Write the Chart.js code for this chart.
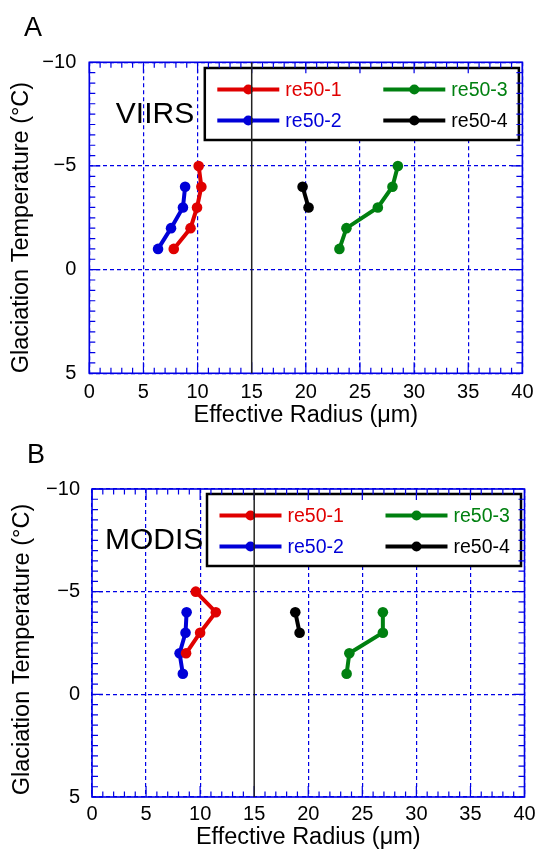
<!DOCTYPE html>
<html>
<head>
<meta charset="utf-8">
<script src="https://cdn.jsdelivr.net/npm/chart.js@4.4.0/dist/chart.umd.min.js"></script>
<style>
  body { margin: 0; background: #fff; width: 541px; height: 854px; position: relative; overflow: hidden; }
  .panel { position: absolute; left: 0; width: 541px; height: 427px; }
</style>
</head>
<body>
<div class="panel" style="top:0"><canvas id="chartA" width="541" height="427"></canvas></div>
<div class="panel" style="top:427px"><canvas id="chartB" width="541" height="427"></canvas></div>
<script>
// ---- data --------------------------------------------------------------
const seriesNames = ['re50-1', 're50-2', 're50-3', 're50-4'];
const xTicks = [0, 5, 10, 15, 20, 25, 30, 35, 40];
const yTicks = [-10, -5, 0, 5];

// VIIRS panel: effective radius (um) and glaciation temperature (C)
const viirsRe1 = [10.1, 10.35, 9.95, 9.35, 7.8];
const viirsT1  = [-5, -4, -3, -2, -1];
const viirsRe2 = [8.85, 8.65, 7.55, 6.35];
const viirsT2  = [-4, -3, -2, -1];
const viirsRe3 = [28.5, 28.0, 26.65, 23.75, 23.1];
const viirsT3  = [-5, -4, -3, -2, -1];
const viirsRe4 = [19.7, 20.25];
const viirsT4  = [-4, -3];

// MODIS panel
const modisRe1 = [9.6, 11.45, 10.0, 8.7];
const modisT1  = [-5, -4, -3, -2];
const modisRe2 = [8.75, 8.65, 8.1, 8.4];
const modisT2  = [-4, -3, -2, -1];
const modisRe3 = [26.9, 26.9, 23.8, 23.55];
const modisT3  = [-4, -3, -2, -1];
const modisRe4 = [18.8, 19.2];
const modisT4  = [-4, -3];

// ---- styling ------------------------------------------------------------
const colors = ['#e00000', '#0000d8', '#008010', '#000000'];
const axisBlue = '#0000e6';
const FONT = '"Liberation Sans", Arial, Helvetica, sans-serif';

function pts(xs, ys) {
  return xs.map((x, i) => ({ x: x, y: ys[i] }));
}

// frame, minor ticks, legend box, 15um line, labels
const decorPlugin = {
  id: 'decor',
  afterDatasetsDraw(chart, args, opts) {
    const ctx = chart.ctx;
    const ca = chart.chartArea;
    const xs = chart.scales.x, ys = chart.scales.y;
    ctx.save();

    // legend box
    const lx = ca.left + opts.legendDx, ly = ca.top + opts.legendDy;
    const lw = ca.right - 3.5 - lx, lh = 72;
    ctx.fillStyle = '#fff';
    ctx.fillRect(lx, ly, lw, lh);
    ctx.strokeStyle = '#000';
    ctx.lineWidth = 2.5;
    ctx.strokeRect(lx, ly, lw, lh);
    chart.data.datasets.forEach((ds, i) => {
      const col = Math.floor(i / 2), row = i % 2;
      const x0 = lx + 12.5 + col * 166;
      const y0 = ly + 21.5 + row * 31;
      ctx.strokeStyle = ds.borderColor;
      ctx.lineWidth = 4;
      ctx.beginPath();
      ctx.moveTo(x0, y0);
      ctx.lineTo(x0 + 62, y0);
      ctx.stroke();
      ctx.fillStyle = ds.borderColor;
      ctx.beginPath();
      ctx.arc(x0 + 31, y0, 5, 0, Math.PI * 2);
      ctx.fill();
      ctx.font = '19.5px ' + FONT;
      ctx.textAlign = 'left';
      ctx.textBaseline = 'middle';
      ctx.fillText(ds.label, x0 + 68, y0 + 1);
    });

    // frame
    ctx.strokeStyle = axisBlue;
    ctx.lineWidth = 1.6;
    ctx.strokeRect(ca.left, ca.top, ca.right - ca.left, ca.bottom - ca.top);

    // inward ticks
    ctx.lineWidth = 1.2;
    ctx.beginPath();
    for (let v = 0; v <= 40; v += 1) {
      const px = xs.getPixelForValue(v);
      const len = v % 5 === 0 ? 11 : 5.5;
      ctx.moveTo(px, ca.bottom); ctx.lineTo(px, ca.bottom - len);
      ctx.moveTo(px, ca.top); ctx.lineTo(px, ca.top + len);
    }
    for (let v = -10; v <= 5; v += 0.5) {
      const py = ys.getPixelForValue(v);
      const len = v % 5 === 0 ? 11 : 6;
      ctx.moveTo(ca.left, py); ctx.lineTo(ca.left + len, py);
      ctx.moveTo(ca.right, py); ctx.lineTo(ca.right - len, py);
    }
    ctx.stroke();

    // 15 um reference line
    const p15 = xs.getPixelForValue(15);
    ctx.strokeStyle = '#222';
    ctx.lineWidth = 1.5;
    ctx.beginPath();
    ctx.moveTo(p15, ca.top);
    ctx.lineTo(p15, ca.bottom);
    ctx.stroke();

    // sensor name
    ctx.fillStyle = '#000';
    ctx.font = '30px ' + FONT;
    ctx.textAlign = 'left';
    ctx.textBaseline = 'alphabetic';
    ctx.fillText(opts.sensor, ca.left + opts.sensorDx, ca.top + opts.sensorDy);

    // panel letter
    ctx.font = '27px ' + FONT;
    ctx.fillText(opts.letter, opts.letterX, opts.letterY);
    ctx.restore();
  }
};

function makeChart(id, sets, cfg) {
  const datasets = sets.map((s, i) => ({
    label: seriesNames[i],
    data: s,
    showLine: true,
    borderColor: colors[i],
    backgroundColor: colors[i],
    borderWidth: 4,
    pointRadius: 5.3,
    pointBorderWidth: 0,
    pointBackgroundColor: colors[i],
    clip: false
  }));
  return new Chart(document.getElementById(id), {
    type: 'scatter',
    data: { datasets: datasets },
    options: {
      responsive: false,
      animation: false,
      events: [],
      layout: { padding: { top: cfg.top, right: 541 - cfg.right, left: 0, bottom: 0 } },
      scales: {
        x: {
          type: 'linear', min: 0, max: 40,
          afterFit: s => { s.height = 427 - cfg.bottom; },
          afterBuildTicks: s => { s.ticks = xTicks.map(v => ({ value: v })); },
          ticks: { color: '#000', padding: cfg.xTickPad, font: { family: FONT, size: 20 } },
          grid: {
            drawTicks: false, lineWidth: 1.2,
            color: c => (c.tick && c.tick.value === 15) ? 'rgba(0,0,0,0)' : axisBlue
          },
          border: { display: false, dash: [4, 3] },
          title: {
            display: true, text: 'Effective Radius (\u03bcm)', color: '#000',
            font: { family: FONT, size: 23.5, lineHeight: 1 },
            padding: { top: 0, bottom: cfg.xTitlePad }
          }
        },
        y: {
          type: 'linear', min: -10, max: 5, reverse: true,
          afterFit: s => { s.width = cfg.left; },
          afterBuildTicks: s => { s.ticks = yTicks.map(v => ({ value: v })); },
          ticks: {
            color: '#000', padding: cfg.yTickPad, font: { family: FONT, size: 20 },
            callback: v => (v < 0 ? '\u2212' + Math.abs(v) : String(v))
          },
          grid: { drawTicks: false, lineWidth: 1.2, color: axisBlue },
          border: { display: false, dash: [4, 3] },
          title: {
            display: true, text: 'Glaciation Temperature (\u00b0C)' + cfg.yTitleTail, color: '#000',
            font: { family: FONT, size: 23.5, lineHeight: 1 },
            padding: { top: cfg.yTitlePad, bottom: 0 }
          }
        }
      },
      plugins: {
        legend: { display: false },
        tooltip: { enabled: false },
        decor: cfg.decor
      }
    },
    plugins: [decorPlugin]
  });
}

makeChart('chartA', [
  pts(viirsRe1, viirsT1), pts(viirsRe2, viirsT2), pts(viirsRe3, viirsT3), pts(viirsRe4, viirsT4)
], {
  left: 89.3, right: 524, top: 62.3, bottom: 373.3,
  xTickPad: 7.5, xTitlePad: 0, yTickPad: 13, yTitlePad: 10, yTitleTail: '\u00a0\u00a0\u00a0',
  decor: { legendDx: 115.5, legendDy: 5.7, sensor: 'VIIRS', sensorDx: 26.5, sensorDy: 60.5,
           letter: 'A', letterX: 24, letterY: 36 }
});

makeChart('chartB', [
  pts(modisRe1, modisT1), pts(modisRe2, modisT2), pts(modisRe3, modisT3), pts(modisRe4, modisT4)
], {
  left: 92, right: 524.5, top: 62, bottom: 370,
  xTickPad: 5, xTitlePad: 5, yTickPad: 12, yTitlePad: 11, yTitleTail: '\u00a0\u00a0',
  decor: { legendDx: 115, legendDy: 5, sensor: 'MODIS', sensorDx: 13, sensorDy: 59.5,
           letter: 'B', letterX: 27, letterY: 35.7 }
});
</script>
</body>
</html>
